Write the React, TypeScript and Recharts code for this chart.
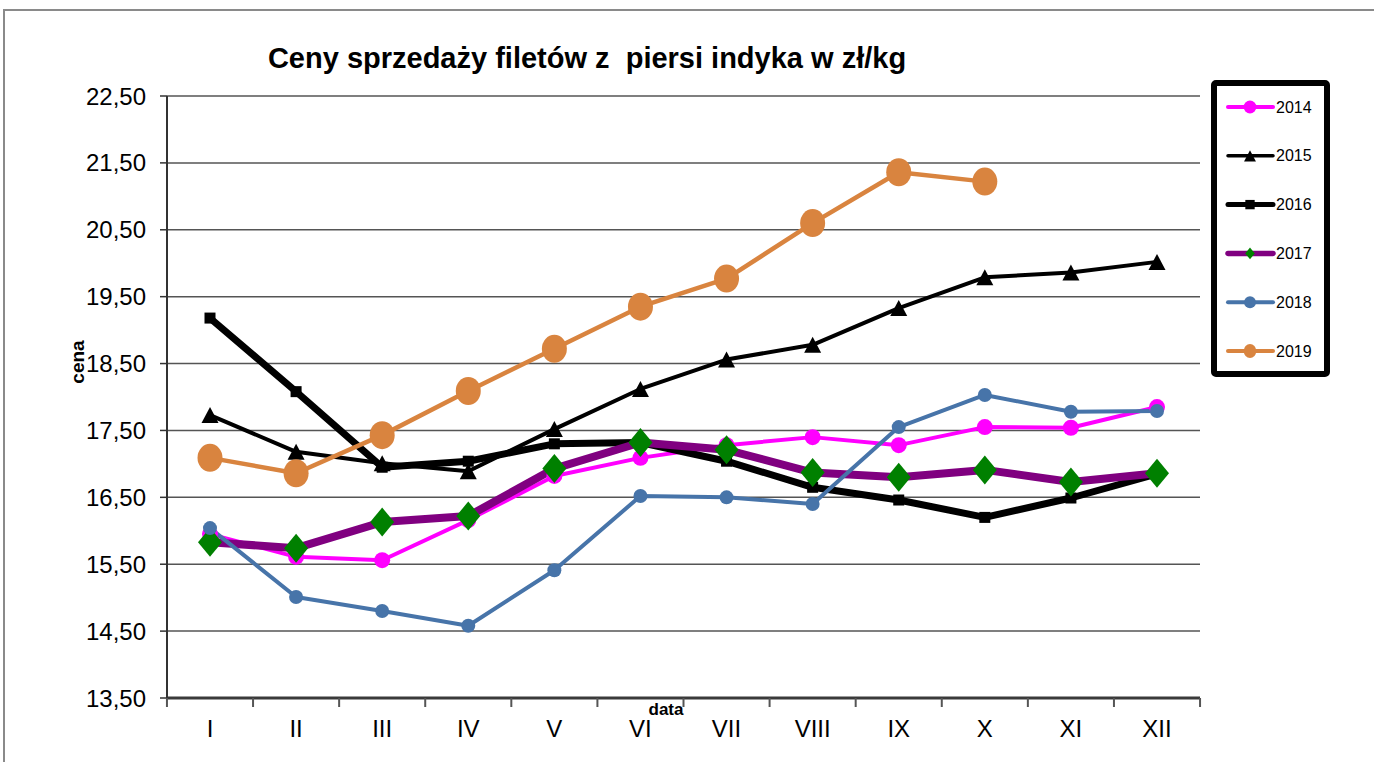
import React from "react";
import { Legend, Line, LineChart, XAxis, YAxis, CartesianGrid } from "recharts";

// Ceny sprzedaży filetów z piersi indyka (zł/kg), miesiące I–XII

const MONTHS = ["I", "II", "III", "IV", "V", "VI", "VII", "VIII", "IX", "X", "XI", "XII"];

const Y2014 = [15.95, 15.61, 15.56, 16.16, 16.82, 17.09, 17.28, 17.4, 17.28, 17.55, 17.54, 17.85];
const Y2015 = [17.73, 17.18, 17.01, 16.89, 17.52, 18.12, 18.56, 18.78, 19.33, 19.79, 19.86, 20.02];
const Y2016 = [19.18, 18.08, 16.95, 17.04, 17.3, 17.32, 17.04, 16.65, 16.46, 16.2, 16.49, 16.85];
const Y2017 = [15.83, 15.74, 16.13, 16.22, 16.93, 17.32, 17.21, 16.87, 16.8, 16.91, 16.73, 16.86];
const Y2018 = [16.04, 15.01, 14.8, 14.58, 15.41, 16.52, 16.5, 16.4, 17.55, 18.03, 17.78, 17.79];
const Y2019 = [17.09, 16.86, 17.43, 18.09, 18.72, 19.35, 19.77, 20.6, 21.36, 21.22, null, null];

const Y_TICKS = [13.5, 14.5, 15.5, 16.5, 17.5, 18.5, 19.5, 20.5, 21.5, 22.5];

const data = MONTHS.map((m, i) => ({
  month: m,
  y2014: Y2014[i],
  y2015: Y2015[i],
  y2016: Y2016[i],
  y2017: Y2017[i],
  y2018: Y2018[i],
  y2019: Y2019[i],
}));

type Shape = "circle" | "triangle" | "square" | "diamond";

interface SeriesStyle {
  key: string;
  name: string;
  stroke: string;
  width: number;
  shape: Shape;
  fill: string;
  rx: number; // half width of marker
  ry: number; // half height of marker
  legendWidth: number;
  legendScale: number;
}

const SERIES: SeriesStyle[] = [
  { key: "y2014", name: "2014", stroke: "#ff00ff", width: 4, shape: "circle", fill: "#ff00ff", rx: 8, ry: 8, legendWidth: 4, legendScale: 0.8 },
  { key: "y2015", name: "2015", stroke: "#000000", width: 4, shape: "triangle", fill: "#000000", rx: 8.5, ry: 8, legendWidth: 3.5, legendScale: 0.7 },
  { key: "y2016", name: "2016", stroke: "#000000", width: 7, shape: "square", fill: "#000000", rx: 5.5, ry: 5.5, legendWidth: 5, legendScale: 0.85 },
  { key: "y2017", name: "2017", stroke: "#800080", width: 8, shape: "diamond", fill: "#008000", rx: 12, ry: 14.5, legendWidth: 5.5, legendScale: 0.4 },
  { key: "y2018", name: "2018", stroke: "#4774a9", width: 4, shape: "circle", fill: "#4774a9", rx: 7, ry: 7, legendWidth: 4, legendScale: 0.85 },
  { key: "y2019", name: "2019", stroke: "#d9843f", width: 4.5, shape: "circle", fill: "#d9843f", rx: 12.5, ry: 14, legendWidth: 4, legendScale: 0.5 },
];

const FONT = "'Liberation Sans', Arial, Helvetica, sans-serif";
const X_PAD = 43; // half a category, so the points sit mid-band like Excel

function Marker({ s, cx, cy, k = 1 }: { s: SeriesStyle; cx: number; cy: number; k?: number }) {
  const rx = s.rx * k;
  const ry = s.ry * k;
  if (s.shape === "circle") return <ellipse cx={cx} cy={cy} rx={rx} ry={ry} fill={s.fill} />;
  if (s.shape === "square") return <rect x={cx - rx} y={cy - ry} width={rx * 2} height={ry * 2} fill={s.fill} />;
  if (s.shape === "triangle")
    return <polygon points={`${cx},${cy - ry} ${cx + rx},${cy + ry} ${cx - rx},${cy + ry}`} fill={s.fill} />;
  return <polygon points={`${cx},${cy - ry} ${cx + rx},${cy} ${cx},${cy + ry} ${cx - rx},${cy}`} fill={s.fill} />;
}

function makeDot(s: SeriesStyle) {
  return (props: any) => {
    const { cx, cy, index } = props;
    if (cx == null || cy == null || props.value == null) return <g key={`${s.key}-${index}`} />;
    return (
      <g key={`${s.key}-${index}`}>
        <Marker s={s} cx={cx} cy={cy} />
      </g>
    );
  };
}

// month label plus Excel-style tick marks on the category boundaries
function MonthTick(props: any) {
  const { x, y, payload, index, visibleTicksCount, width } = props;
  const n = visibleTicksCount ?? MONTHS.length;
  const step = (width - 2 * X_PAD) / (n - 1);
  const axisY = y - 22;
  return (
    <g>
      <line x1={x - step / 2} x2={x - step / 2} y1={axisY} y2={axisY + 9} stroke="#555" strokeWidth={2} />
      {index === n - 1 && (
        <line x1={x + step / 2} x2={x + step / 2} y1={axisY} y2={axisY + 9} stroke="#555" strokeWidth={2} />
      )}
      <text x={x} y={y} dy="0.71em" textAnchor="middle" fontFamily={FONT} fontSize={24} fill="#000">
        {payload.value}
      </text>
    </g>
  );
}

function LegendBox({ payload }: any) {
  const items: any[] = payload ?? [];
  return (
    <div
      style={{
        width: 119,
        height: 297,
        boxSizing: "border-box",
        border: "6px solid #000",
        borderRadius: 5,
        background: "#fff",
      }}
    >
      <svg width={107} height={285} style={{ display: "block" }}>
        {items.map((entry, i) => {
          const s = SERIES.find((x) => x.key === entry.dataKey) ?? SERIES[i];
          const y = 21 + i * 48.8;
          return (
            <g key={s.key}>
              <line x1={11} x2={56} y1={y} y2={y} stroke={s.stroke} strokeWidth={s.legendWidth} strokeLinecap="round" />
              <Marker s={s} cx={33} cy={y} k={s.legendScale} />
              <text x={59} y={y + 5.5} fontFamily={FONT} fontSize={16} fill="#000">
                {entry.value}
              </text>
            </g>
          );
        })}
      </svg>
    </div>
  );
}

export default function App() {
  return (
    <div style={{ position: "absolute", left: 0, top: 0, width: 1374, height: 762, background: "#fff", fontFamily: FONT }}>
      {/* outer frame */}
      <div style={{ position: "absolute", left: 3, top: 9, right: 0, bottom: 0, borderTop: "2px solid #8a8a8a", borderLeft: "2px solid #8a8a8a" }} />

      <LineChart
        width={1374}
        height={762}
        data={data}
        margin={{ top: 96, right: 174, left: 87, bottom: 24 }}
        style={{ position: "absolute", left: 0, top: 0 }}
      >
        <CartesianGrid vertical={false} stroke="#555" strokeWidth={1.5} />
        <XAxis
          dataKey="month"
          padding={{ left: X_PAD, right: X_PAD }}
          height={40}
          tickLine={false}
          tickSize={8}
          tickMargin={14}
          interval={0}
          axisLine={{ stroke: "#3a3a3a", strokeWidth: 3 }}
          tick={<MonthTick />}
        />
        <YAxis
          domain={[13.5, 22.5]}
          ticks={Y_TICKS}
          width={80}
          interval={0}
          tickSize={7}
          tickMargin={14}
          tickFormatter={(v: number) => v.toFixed(2).replace(".", ",")}
          tick={{ fill: "#000", fontSize: 24, fontFamily: FONT }}
          tickLine={{ stroke: "#333", strokeWidth: 1.5 }}
          axisLine={{ stroke: "#333", strokeWidth: 2 }}
        />
        <YAxis
          yAxisId="right"
          orientation="right"
          width={0}
          domain={[0, 1]}
          tick={false}
          tickLine={false}
          axisLine={{ stroke: "#888", strokeWidth: 3 }}
        />
        {SERIES.map((s) => (
          <Line
            key={s.key}
            dataKey={s.key}
            name={s.name}
            type="linear"
            stroke={s.stroke}
            strokeWidth={s.width}
            strokeLinejoin="round"
            dot={makeDot(s)}
            activeDot={false}
            connectNulls={false}
            isAnimationActive={false}
          />
        ))}
        <Legend
          layout="vertical"
          align="center"
          verticalAlign="middle"
          content={<LegendBox />}
          wrapperStyle={{ left: 1211, top: 80, width: 119, height: 297 }}
        />
      </LineChart>

      {/* title and axis names */}
      <div
        style={{
          position: "absolute",
          left: 0,
          width: 1174,
          top: 42,
          textAlign: "center",
          fontSize: 29,
          fontWeight: "bold",
          whiteSpace: "pre",
          color: "#000",
        }}
      >
        Ceny sprzedaży filetów z  piersi indyka w zł/kg
      </div>
      <div
        style={{
          position: "absolute",
          left: 78,
          top: 362,
          transform: "translate(-50%, -50%) rotate(-90deg)",
          fontSize: 19,
          fontWeight: "bold",
          color: "#000",
        }}
      >
        cena
      </div>
      <div
        style={{
          position: "absolute",
          left: 666,
          top: 710,
          transform: "translate(-50%, -50%)",
          fontSize: 17,
          fontWeight: "bold",
          color: "#000",
        }}
      >
        data
      </div>
    </div>
  );
}
